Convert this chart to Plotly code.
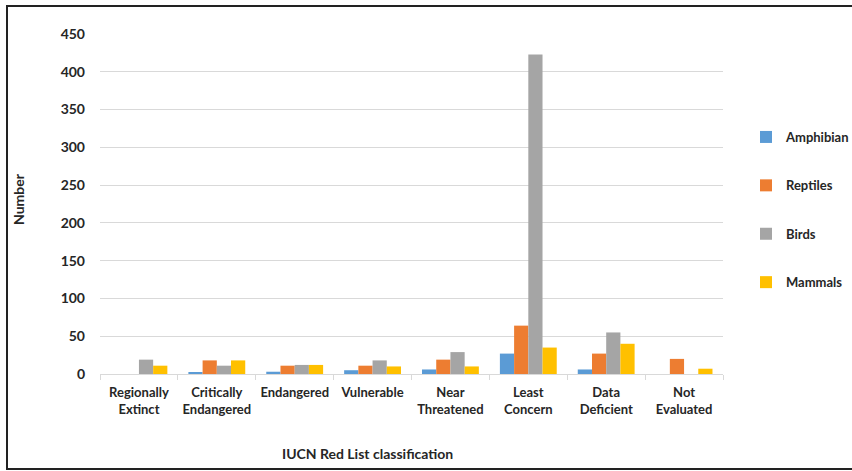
import plotly.graph_objects as go

categories = ["Regionally<br>Extinct", "Critically<br>Endangered", "Endangered", "Vulnerable",
              "Near<br>Threatened", "Least<br>Concern", "Data<br>Deficient", "Not<br>Evaluated"]
amphibian = [0, 2, 3, 5, 6, 27, 6, 0]
reptiles = [0, 18, 11, 11, 19, 64, 27, 20]
birds = [19, 11, 12, 18, 29, 423, 55, 0]
mammals = [11, 18, 12, 10, 10, 35, 40, 7]

series = [("Amphibian", amphibian, "#5B9BD5"),
          ("Reptiles", reptiles, "#ED7D31"),
          ("Birds", birds, "#A5A5A5"),
          ("Mammals", mammals, "#FFC000")]

FONT = "Lato"
fig = go.Figure()
for name, vals, col in series:
    fig.add_trace(go.Bar(x=categories, y=vals, name=name, marker_color=col,
                         marker_line_width=0, legendgroup=name))

L, R, T, B = 100, 129, 34, 97
W, H = 852, 471
pw, ph = W - L - R, H - T - B

fig.update_layout(
    width=W, height=H,
    margin=dict(l=L, r=R, t=T, b=B, autoexpand=False),
    paper_bgcolor="white", plot_bgcolor="white",
    barmode="group", bargap=0.27, bargroupgap=0,
    font=dict(family=FONT, color="#262626"),
    xaxis=dict(type="category", tickson="boundaries", ticks="outside", ticklen=5,
               tickcolor="#d9d9d9", showline=True, linecolor="#d9d9d9", linewidth=1,
               showgrid=False, automargin=False, ticklabelstandoff=6,
               tickfont=dict(family=FONT, size=13, color="#262626", weight="bold")),
    yaxis=dict(range=[0, 450], dtick=50, showgrid=True, gridcolor="#d9d9d9", gridwidth=1,
               zeroline=False, showline=False, ticks="", ticklabelstandoff=14, automargin=False,
               tickfont=dict(family=FONT, size=14, color="#262626", weight="bold")),
    legend=dict(x=(746 - L) / pw, xanchor="left", y=(H - B - 122) / ph, yanchor="top",
                traceorder="grouped", tracegroupgap=28.5,
                font=dict(family=FONT, size=13, color="#262626", weight="bold"),
                bgcolor="rgba(0,0,0,0)"),
    showlegend=True,
)

fig.add_annotation(text="<b>IUCN Red List classification</b>", xref="paper", yref="paper",
                   x=(367 - L) / pw, y=(H - B - 453) / ph, xanchor="center", yanchor="middle",
                   showarrow=False, font=dict(family=FONT, size=14, color="#262626"))
fig.add_annotation(text="<b>Number</b>", xref="paper", yref="paper", textangle=-90,
                   x=(18 - L) / pw, y=(H - B - 199) / ph, xanchor="center", yanchor="middle",
                   showarrow=False, font=dict(family=FONT, size=14, color="#262626"))

fig.add_shape(type="rect", xref="paper", yref="paper",
              x0=(7 - L) / pw, x1=(W + 20 - L) / pw,
              y0=(H - B - 469) / ph, y1=(H - B - 6) / ph,
              line=dict(color="#222222", width=2), fillcolor="rgba(0,0,0,0)", layer="below")

fig.write_html("out.html")
